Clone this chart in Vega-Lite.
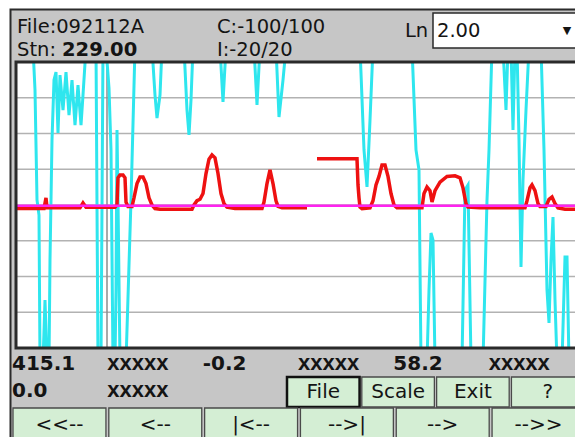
{
  "$schema": "https://vega.github.io/schema/vega-lite/v6.json",
  "width": 559,
  "height": 286,
  "autosize": {"type": "none"},
  "padding": {"left": 16, "top": 62, "right": 0, "bottom": 89},
  "background": "#ffffff",
  "view": {"stroke": null, "fill": null},
  "config": {"axis": {"disable": true}, "legend": {"disable": true}},
  "resolve": {"scale": {"x": "independent", "y": "independent"}},
  "datasets": {
    "grid": [{"v": -75}, {"v": -50}, {"v": -25}, {"v": 0}, {"v": 25}, {"v": 50}, {"v": 75}],
    "cursor": [{"t": 91}],
    "magenta": [{"t": 0, "v": -0.6}, {"t": 559, "v": -0.6}],
    "cyan": [
      {"t": 0, "v": 110}, {"t": 17, "v": 110}, {"t": 19, "v": 80.4}, {"t": 21, "v": 3.5}, {"t": 23, "v": -7},
      {"t": 24, "v": -110}, {"t": 27, "v": -110}, {"t": 29, "v": -66.4}, {"t": 31, "v": -110}, {"t": 33, "v": -110},
      {"t": 34, "v": -38.5}, {"t": 36, "v": 45.5}, {"t": 38, "v": 87.4}, {"t": 40, "v": 93}, {"t": 42, "v": 50.3},
      {"t": 44, "v": 90.9}, {"t": 47, "v": 66.4}, {"t": 50, "v": 93}, {"t": 53, "v": 62.9}, {"t": 56, "v": 87.4},
      {"t": 59, "v": 55.9}, {"t": 62, "v": 83.9}, {"t": 65, "v": 55.9}, {"t": 67, "v": 76.9}, {"t": 70, "v": 110},
      {"t": 80, "v": 110}, {"t": 82, "v": -110}, {"t": 85, "v": -110}, {"t": 87, "v": 110}, {"t": 90, "v": 110},
      {"t": 93, "v": 81.8}, {"t": 95, "v": 38.5}, {"t": 97, "v": -110}, {"t": 99, "v": -110}, {"t": 100, "v": -59.4},
      {"t": 101, "v": 52.4}, {"t": 102, "v": 3.5}, {"t": 104, "v": -110}, {"t": 110, "v": -110}, {"t": 115, "v": 3.5},
      {"t": 119, "v": 110}, {"t": 136, "v": 110}, {"t": 139, "v": 76.9}, {"t": 141, "v": 60.8}, {"t": 144, "v": 76.9},
      {"t": 146, "v": 110}, {"t": 168, "v": 110}, {"t": 171, "v": 66.4}, {"t": 173, "v": 49}, {"t": 175, "v": 73.4},
      {"t": 177, "v": 110}, {"t": 204, "v": 110}, {"t": 207, "v": 72}, {"t": 210, "v": 110}, {"t": 238, "v": 110},
      {"t": 241, "v": 69.9}, {"t": 244, "v": 110}, {"t": 260, "v": 110}, {"t": 263, "v": 61.5}, {"t": 267, "v": 87.4},
      {"t": 270, "v": 110}, {"t": 344, "v": 110}, {"t": 348, "v": 38.5}, {"t": 351, "v": 12.6}, {"t": 354, "v": 59.4},
      {"t": 357, "v": 110}, {"t": 396, "v": 110}, {"t": 400, "v": 38.5}, {"t": 403, "v": 24.5}, {"t": 405, "v": -110},
      {"t": 411, "v": -110}, {"t": 413, "v": -59.4}, {"t": 415, "v": -19.6}, {"t": 417, "v": -24.5}, {"t": 419, "v": -110},
      {"t": 446, "v": -110}, {"t": 449, "v": 10.5}, {"t": 452, "v": 14}, {"t": 455, "v": -110}, {"t": 467, "v": -110},
      {"t": 471, "v": 3.5}, {"t": 473, "v": 38.5}, {"t": 476, "v": 110}, {"t": 487, "v": 110}, {"t": 490, "v": 66.4},
      {"t": 492, "v": 110}, {"t": 495, "v": 110}, {"t": 497, "v": 52.4}, {"t": 499, "v": 110}, {"t": 501, "v": 110},
      {"t": 503, "v": 45.5}, {"t": 505, "v": -43.4}, {"t": 507, "v": 17.5}, {"t": 510, "v": 66.4}, {"t": 513, "v": 110},
      {"t": 525, "v": 110}, {"t": 528, "v": 38.5}, {"t": 531, "v": -59.4}, {"t": 533, "v": -82.5}, {"t": 535, "v": -38.5},
      {"t": 537, "v": -8.4}, {"t": 539, "v": -66.4}, {"t": 541, "v": -110}, {"t": 546, "v": -110}, {"t": 549, "v": -36.4},
      {"t": 551, "v": -36.4}, {"t": 553, "v": -110}, {"t": 559, "v": -110}
    ],
    "red": [
      {"seg": 1, "t": 0, "v": -2.5}, {"seg": 1, "t": 28, "v": -2.5}, {"seg": 1, "t": 30, "v": 5}, {"seg": 1, "t": 31, "v": -2},
      {"seg": 1, "t": 64, "v": -2}, {"seg": 1, "t": 67, "v": 1.5}, {"seg": 1, "t": 70, "v": -1.5}, {"seg": 1, "t": 99, "v": -1.5},
      {"seg": 1, "t": 101, "v": 0}, {"seg": 1, "t": 102, "v": 19}, {"seg": 1, "t": 104, "v": 21}, {"seg": 1, "t": 107, "v": 21},
      {"seg": 1, "t": 109, "v": 19}, {"seg": 1, "t": 110, "v": 2}, {"seg": 1, "t": 112, "v": -1}, {"seg": 1, "t": 116, "v": -1},
      {"seg": 1, "t": 118, "v": 5}, {"seg": 1, "t": 121, "v": 15}, {"seg": 1, "t": 124, "v": 19.6}, {"seg": 1, "t": 127, "v": 19.6},
      {"seg": 1, "t": 130, "v": 15}, {"seg": 1, "t": 133, "v": 5}, {"seg": 1, "t": 136, "v": 0}, {"seg": 1, "t": 139, "v": -2.5},
      {"seg": 1, "t": 144, "v": -3}, {"seg": 1, "t": 176, "v": -3}, {"seg": 1, "t": 178, "v": 0}, {"seg": 1, "t": 181, "v": 3},
      {"seg": 1, "t": 184, "v": 4}, {"seg": 1, "t": 187, "v": 8}, {"seg": 1, "t": 190, "v": 22}, {"seg": 1, "t": 193, "v": 32},
      {"seg": 1, "t": 196, "v": 35}, {"seg": 1, "t": 199, "v": 33}, {"seg": 1, "t": 202, "v": 22}, {"seg": 1, "t": 205, "v": 8},
      {"seg": 1, "t": 208, "v": 1}, {"seg": 1, "t": 211, "v": -1.5}, {"seg": 1, "t": 219, "v": -2.5}, {"seg": 1, "t": 246, "v": -2.5},
      {"seg": 1, "t": 248, "v": 2}, {"seg": 1, "t": 251, "v": 15}, {"seg": 1, "t": 254, "v": 24.6}, {"seg": 1, "t": 257, "v": 15},
      {"seg": 1, "t": 260, "v": 3}, {"seg": 1, "t": 262, "v": -1}, {"seg": 1, "t": 266, "v": -2}, {"seg": 1, "t": 291, "v": -2},
      {"seg": 2, "t": 301, "v": 32.3}, {"seg": 2, "t": 341, "v": 32.3}, {"seg": 2, "t": 342, "v": 14}, {"seg": 2, "t": 343, "v": 5},
      {"seg": 2, "t": 344, "v": -1.5}, {"seg": 2, "t": 346, "v": -2.5}, {"seg": 2, "t": 354, "v": -2}, {"seg": 2, "t": 357, "v": 3},
      {"seg": 2, "t": 360, "v": 14}, {"seg": 2, "t": 363, "v": 20}, {"seg": 2, "t": 366, "v": 28}, {"seg": 2, "t": 369, "v": 28},
      {"seg": 2, "t": 372, "v": 20}, {"seg": 2, "t": 375, "v": 8}, {"seg": 2, "t": 378, "v": 0}, {"seg": 2, "t": 381, "v": -2},
      {"seg": 2, "t": 406, "v": -2}, {"seg": 2, "t": 408, "v": 8}, {"seg": 2, "t": 411, "v": 12.6}, {"seg": 2, "t": 414, "v": 10},
      {"seg": 2, "t": 416, "v": 2.1}, {"seg": 2, "t": 419, "v": 10}, {"seg": 2, "t": 424, "v": 16}, {"seg": 2, "t": 431, "v": 20},
      {"seg": 2, "t": 439, "v": 20.4}, {"seg": 2, "t": 444, "v": 19}, {"seg": 2, "t": 447, "v": 12}, {"seg": 2, "t": 450, "v": 1},
      {"seg": 2, "t": 452, "v": -1.5}, {"seg": 2, "t": 464, "v": -2}, {"seg": 2, "t": 509, "v": -2}, {"seg": 2, "t": 511, "v": 3},
      {"seg": 2, "t": 514, "v": 12}, {"seg": 2, "t": 516, "v": 14}, {"seg": 2, "t": 519, "v": 10}, {"seg": 2, "t": 522, "v": 1},
      {"seg": 2, "t": 524, "v": -1}, {"seg": 2, "t": 530, "v": -1}, {"seg": 2, "t": 533, "v": 4}, {"seg": 2, "t": 536, "v": 5.6},
      {"seg": 2, "t": 539, "v": 1}, {"seg": 2, "t": 542, "v": -2}, {"seg": 2, "t": 549, "v": -3}, {"seg": 2, "t": 559, "v": -3}
    ]
  },
  "layer": [
    {
      "data": {"values": [{"part": "panel"}]},
      "mark": {"type": "rect", "fill": "#c6c6c6", "stroke": "#2b2b2b", "strokeWidth": 2},
      "encoding": {
        "x": {"field": "part", "type": "nominal", "scale": {"type": "band", "domain": ["panel"], "range": [-5.5, 600], "paddingInner": 0, "paddingOuter": 0}},
        "y": {"field": "part", "type": "nominal", "scale": {"type": "band", "domain": ["panel"], "range": [-52.5, 400], "paddingInner": 0, "paddingOuter": 0}}
      }
    },
    {
      "data": {"values": [{"part": "plot"}]},
      "mark": {"type": "rect", "fill": "#ffffff"},
      "encoding": {
        "x": {"field": "part", "type": "nominal", "scale": {"type": "band", "domain": ["plot"], "range": [0, 600], "paddingInner": 0, "paddingOuter": 0}},
        "y": {"field": "part", "type": "nominal", "scale": {"type": "band", "domain": ["plot"], "range": [0, 286], "paddingInner": 0, "paddingOuter": 0}}
      }
    },
    {
      "layer": [
        {
          "data": {"name": "grid"},
          "mark": {"type": "rule", "stroke": "#b2b2b2", "strokeWidth": 1.5},
          "encoding": {"y": {"field": "v", "type": "quantitative", "scale": {"domain": [-100, 100], "nice": false, "zero": false}}}
        },
        {
          "data": {"name": "cursor"},
          "mark": {"type": "rule", "stroke": "#8c8c8c", "strokeWidth": 1.5},
          "encoding": {"x": {"field": "t", "type": "quantitative", "scale": {"domain": [0, 559], "nice": false, "zero": false}}}
        },
        {
          "data": {"name": "cyan"},
          "mark": {"type": "line", "stroke": "#2ee6ee", "strokeWidth": 3, "clip": true},
          "encoding": {
            "x": {"field": "t", "type": "quantitative"},
            "y": {"field": "v", "type": "quantitative"}
          }
        },
        {
          "data": {"name": "red"},
          "mark": {"type": "line", "stroke": "#ee1111", "strokeWidth": 3.5, "clip": true},
          "encoding": {
            "x": {"field": "t", "type": "quantitative"},
            "y": {"field": "v", "type": "quantitative"},
            "detail": {"field": "seg", "type": "nominal"}
          }
        },
        {
          "data": {"name": "magenta"},
          "mark": {"type": "line", "stroke": "#ff22f0", "strokeWidth": 2.5, "clip": true},
          "encoding": {
            "x": {"field": "t", "type": "quantitative"},
            "y": {"field": "v", "type": "quantitative"}
          }
        }
      ]
    },
    {
      "data": {"values": [{"part": "plot"}]},
      "mark": {"type": "rect", "fillOpacity": 0, "stroke": "#2a2a2a", "strokeWidth": 3},
      "encoding": {
        "x": {"field": "part", "type": "nominal", "scale": {"type": "band", "domain": ["plot"], "range": [0, 600], "paddingInner": 0, "paddingOuter": 0}},
        "y": {"field": "part", "type": "nominal", "scale": {"type": "band", "domain": ["plot"], "range": [0, 286], "paddingInner": 0, "paddingOuter": 0}}
      }
    },
    {
      "data": {"values": [{"part": "dropdown"}]},
      "mark": {"type": "rect", "fill": "#ffffff", "stroke": "#2a2a2a", "strokeWidth": 1.5},
      "encoding": {
        "x": {"field": "part", "type": "nominal", "scale": {"type": "band", "domain": ["dropdown"], "range": [417, 620], "paddingInner": 0, "paddingOuter": 0}},
        "y": {"field": "part", "type": "nominal", "scale": {"type": "band", "domain": ["dropdown"], "range": [-49, -14], "paddingInner": 0, "paddingOuter": 0}}
      }
    },
    {
      "encoding": {
        "x": {"field": "col", "type": "nominal", "bandPosition": 0, "scale": {"type": "band", "domain": ["c0", "c1", "c2"], "range": [1, 601], "paddingInner": 0, "paddingOuter": 0}},
        "y": {"field": "row", "type": "nominal", "bandPosition": 1, "scale": {"type": "band", "domain": ["r1", "r2"], "range": [-52, -6], "paddingInner": 0, "paddingOuter": 0}},
        "text": {"field": "label"}
      },
      "layer": [
        {
          "data": {"values": [
            {"label": "File:092112A", "col": "c0", "row": "r1"},
            {"label": "C:-100/100", "col": "c1", "row": "r1"},
            {"label": "Stn:", "col": "c0", "row": "r2"},
            {"label": "I:-20/20", "col": "c1", "row": "r2"}
          ]},
          "mark": {"type": "text", "align": "left", "baseline": "alphabetic", "font": "DejaVu Sans", "fontSize": 19.5, "fill": "#141414"}
        },
        {
          "data": {"values": [{"label": "229.00", "col": "c0", "row": "r2"}]},
          "mark": {"type": "text", "align": "left", "baseline": "alphabetic", "font": "DejaVu Sans", "fontWeight": "bold", "fontSize": 19.5, "fill": "#141414", "dx": 45}
        },
        {
          "data": {"values": [{"label": "Ln", "col": "c2", "row": "r1"}]},
          "mark": {"type": "text", "align": "left", "baseline": "alphabetic", "font": "DejaVu Sans", "fontSize": 19.5, "fill": "#141414", "dx": -12, "dy": 4}
        },
        {
          "data": {"values": [{"label": "2.00", "col": "c2", "row": "r1"}]},
          "mark": {"type": "text", "align": "left", "baseline": "alphabetic", "font": "DejaVu Sans", "fontSize": 19.5, "fill": "#141414", "dx": 20, "dy": 4}
        },
        {
          "data": {"values": [{"label": "▼", "col": "c2", "row": "r1"}]},
          "mark": {"type": "text", "align": "center", "baseline": "middle", "font": "DejaVu Sans", "fontSize": 11, "fill": "#141414", "dx": 150, "dy": -2}
        }
      ]
    },
    {
      "encoding": {
        "x": {"field": "col", "type": "nominal", "bandPosition": 0, "scale": {"type": "band", "domain": ["0", "1", "2", "3", "4", "5"], "range": [-4, 568], "paddingInner": 0, "paddingOuter": 0}},
        "y": {"field": "row", "type": "nominal", "bandPosition": 1, "scale": {"type": "band", "domain": ["a", "b"], "range": [281, 335], "paddingInner": 0, "paddingOuter": 0}},
        "text": {"field": "label"}
      },
      "layer": [
        {
          "data": {"values": [
            {"label": "415.1", "col": "0", "row": "a"},
            {"label": "-0.2", "col": "2", "row": "a"},
            {"label": "58.2", "col": "4", "row": "a"},
            {"label": "0.0", "col": "0", "row": "b"}
          ]},
          "mark": {"type": "text", "align": "left", "baseline": "alphabetic", "font": "DejaVu Sans", "fontWeight": "bold", "fontSize": 20, "fill": "#141414"}
        },
        {
          "data": {"values": [
            {"label": "xxxxx", "col": "1", "row": "a"},
            {"label": "xxxxx", "col": "3", "row": "a"},
            {"label": "xxxxx", "col": "5", "row": "a"},
            {"label": "xxxxx", "col": "1", "row": "b"}
          ]},
          "mark": {"type": "text", "align": "left", "baseline": "alphabetic", "font": "Liberation Sans", "fontWeight": "bold", "fontSize": 22, "fill": "#141414"}
        }
      ]
    },
    {
      "data": {"values": [
        {"label": "File", "bar": "menu"},
        {"label": "Scale", "bar": "menu"},
        {"label": "Exit", "bar": "menu"},
        {"label": "?", "bar": "menu"}
      ]},
      "encoding": {
        "x": {"field": "label", "type": "nominal", "scale": {"type": "band", "domain": ["File", "Scale", "Exit", "?"], "range": [271, 568], "paddingInner": 0.03, "paddingOuter": 0}},
        "y": {"field": "bar", "type": "nominal", "scale": {"type": "band", "domain": ["menu"], "range": [315, 345], "paddingInner": 0, "paddingOuter": 0}}
      },
      "layer": [
        {
          "mark": {"type": "rect", "fill": "#d4eed4"},
          "encoding": {
            "stroke": {"condition": {"test": "datum.label === 'File'", "value": "#111111"}, "value": "#4a4a4a"},
            "strokeWidth": {"condition": {"test": "datum.label === 'File'", "value": 2.5}, "value": 1.3}
          }
        },
        {
          "mark": {"type": "text", "align": "center", "baseline": "middle", "font": "DejaVu Sans", "fontSize": 20, "fill": "#141414"},
          "encoding": {"text": {"field": "label"}}
        }
      ]
    },
    {
      "data": {"values": [
        {"label": "<<--", "bar": "nav"},
        {"label": "<--", "bar": "nav"},
        {"label": "|<--", "bar": "nav"},
        {"label": "-->|", "bar": "nav"},
        {"label": "-->", "bar": "nav"},
        {"label": "-->>", "bar": "nav"}
      ]},
      "encoding": {
        "x": {"field": "label", "type": "nominal", "scale": {"type": "band", "domain": ["<<--", "<--", "|<--", "-->|", "-->", "-->>"], "range": [-3, 569], "paddingInner": 0.03, "paddingOuter": 0}},
        "y": {"field": "bar", "type": "nominal", "scale": {"type": "band", "domain": ["nav"], "range": [346, 382], "paddingInner": 0, "paddingOuter": 0}}
      },
      "layer": [
        {
          "mark": {"type": "rect", "fill": "#d4eed4", "stroke": "#4a4a4a", "strokeWidth": 1.3}
        },
        {
          "mark": {"type": "text", "align": "center", "baseline": "middle", "font": "DejaVu Sans", "fontSize": 20, "fill": "#141414", "dy": -1},
          "encoding": {"text": {"field": "label"}}
        }
      ]
    }
  ]
}
